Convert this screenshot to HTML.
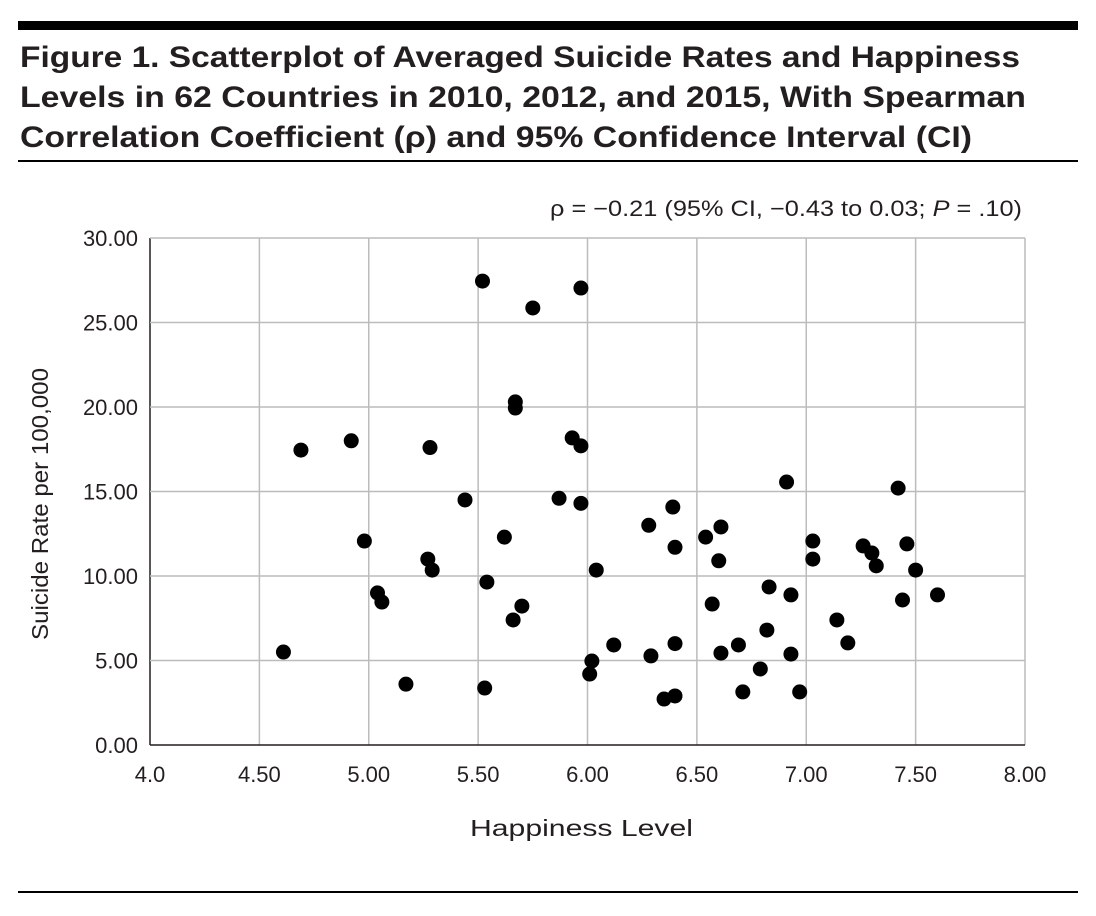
<!DOCTYPE html>
<html><head><meta charset="utf-8"><style>
html,body{margin:0;padding:0;background:#fff}
svg{display:block;font-family:"Liberation Sans",sans-serif}
</style></head><body>
<svg id="chart" width="1096" height="916" viewBox="0 0 1096 916" xmlns="http://www.w3.org/2000/svg">
<rect x="18" y="21" width="1060" height="9" fill="#000"/>
<g font-weight="bold" font-size="30" fill="#231f20">
<text x="20" y="67" textLength="1000" lengthAdjust="spacingAndGlyphs">Figure 1. Scatterplot of Averaged Suicide Rates and Happiness</text>
<text x="20" y="107" textLength="1006" lengthAdjust="spacingAndGlyphs">Levels in 62 Countries in 2010, 2012, and 2015, With Spearman</text>
<text x="20" y="147" textLength="952" lengthAdjust="spacingAndGlyphs">Correlation Coefficient (ρ) and 95% Confidence Interval (CI)</text>
</g>
<rect x="18" y="160" width="1060" height="2" fill="#000"/>
<rect x="18" y="891" width="1060" height="2" fill="#000"/>
<text x="550" y="216" textLength="472" lengthAdjust="spacingAndGlyphs" font-size="22" fill="#231f20">ρ = −0.21 (95% CI, −0.43 to 0.03; <tspan font-style="italic">P</tspan> = .10)</text>
<g id="grid"></g><g id="axes"></g><g id="points"></g>
<text x="470" y="836" textLength="223" lengthAdjust="spacingAndGlyphs" font-size="23" fill="#231f20">Happiness Level</text>
<text transform="translate(48,640) rotate(-90)" textLength="272" lengthAdjust="spacingAndGlyphs" font-size="23" fill="#231f20">Suicide Rate per 100,000</text>
</svg>
<script>
const xTicks=[4.0,4.5,5.0,5.5,6.0,6.5,7.0,7.5,8.0];
const xTickLabels=["4.0","4.50","5.00","5.50","6.00","6.50","7.00","7.50","8.00"];
const yTicks=[0,5,10,15,20,25,30];
const yTickLabels=["0.00","5.00","10.00","15.00","20.00","25.00","30.00"];
const happiness=[4.61,4.69,4.92,4.98,5.04,5.06,5.17,5.27,5.28,5.29,5.44,5.53,5.52,5.54,5.62,5.67,5.67,5.66,5.70,5.75,5.87,5.93,5.97,5.97,5.97,6.01,6.02,6.04,6.12,6.28,6.29,6.35,6.39,6.40,6.40,6.40,6.54,6.57,6.60,6.61,6.61,6.69,6.71,6.79,6.82,6.83,6.91,6.93,6.93,6.97,7.03,7.03,7.14,7.19,7.26,7.30,7.32,7.42,7.44,7.46,7.50,7.60];
const suicideRate=[5.5,17.45,18.0,12.07,9.0,8.46,3.6,11.0,17.6,10.35,14.5,3.37,27.45,9.64,12.3,20.3,19.94,7.4,8.22,25.86,14.6,18.17,27.04,17.7,14.3,4.2,4.97,10.35,5.92,13.0,5.27,2.72,14.08,6.0,2.9,11.7,12.3,8.34,10.9,12.9,5.44,5.92,3.14,4.5,6.8,9.35,15.56,8.88,5.38,3.14,12.07,11.0,7.4,6.04,11.78,11.36,10.6,15.2,8.58,11.9,10.35,8.88];
const NS="http://www.w3.org/2000/svg";
const X0=150,X1=1025,Y0=745,Y1=238;
function xs(v){return X0+(v-4)/(8-4)*(X1-X0);}
function ys(v){return Y0-(v-0)/(30-0)*(Y0-Y1);}
function mk(t,a,p){const e=document.createElementNS(NS,t);for(const k in a)e.setAttribute(k,a[k]);p.appendChild(e);return e;}
const grid=document.getElementById('grid'),axes=document.getElementById('axes'),pts=document.getElementById('points');
xTicks.forEach((v,i)=>{
 const l=mk('line',{x1:xs(v),x2:xs(v),y1:Y1,y2:Y0,stroke:i===0?'#231f20':'#bcbcbc','stroke-width':1.5},grid);
 
 
 const t=mk('text',{x:xs(v),y:Y0+37,'text-anchor':'middle','font-size':22,fill:'#231f20'},axes);
 t.textContent=xTickLabels[i];
 
 
});
yTicks.forEach((v,i)=>{
 const l=mk('line',{x1:X0,x2:X1,y1:ys(v),y2:ys(v),stroke:i===0?'#231f20':'#bcbcbc','stroke-width':1.5},grid);
 
 
 const t=mk('text',{x:138,y:ys(v)+8,'text-anchor':'end','font-size':22,fill:'#231f20'},axes);
 t.textContent=yTickLabels[i];
 
 
});
happiness.forEach((h,i)=>{
 const c=mk('circle',{cx:xs(h),cy:ys(suicideRate[i]),r:7.5,fill:'#000'},pts);
 
 
});
</script>
</body></html>
